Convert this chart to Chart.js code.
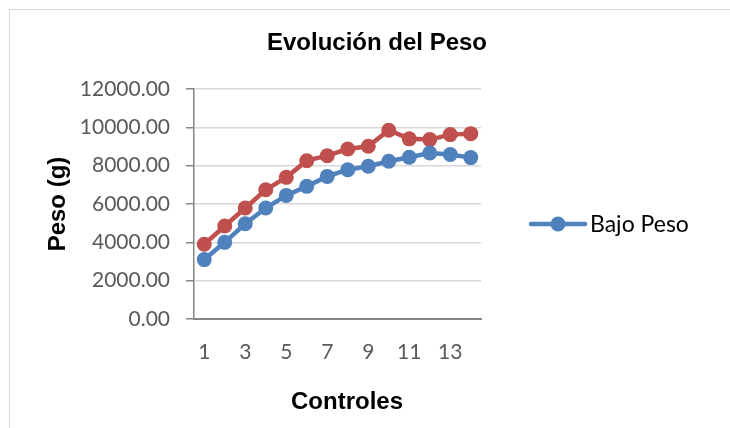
<!DOCTYPE html>
<html>
<head>
<meta charset="utf-8">
<script src="https://cdn.jsdelivr.net/npm/chart.js@4.4.1/dist/chart.umd.min.js"></script>
<style>
  html, body { margin: 0; padding: 0; background: #fff; }
  #wrap { position: relative; width: 730px; height: 428px; overflow: hidden; }
  #frame { position: absolute; left: 9px; top: 9px; width: 740px; height: 440px; border: 1px solid #d9d9d9; box-sizing: border-box; }
  canvas { position: absolute; left: 0; top: 0; }
</style>
</head>
<body>
<div id="wrap">
  <div id="frame"></div>
  <canvas id="chart" width="730" height="428"></canvas>
</div>
<script>
const controles = [1, 2, 3, 4, 5, 6, 7, 8, 9, 10, 11, 12, 13, 14];
const bajoPeso = [3100, 4000, 4970, 5790, 6450, 6920, 7440, 7790, 7970, 8230, 8440, 8660, 8580, 8420];
const otroPeso = [3900, 4850, 5790, 6740, 7390, 8260, 8520, 8870, 9010, 9850, 9400, 9360, 9620, 9670];
const yTicks = [0, 2000, 4000, 6000, 8000, 10000, 12000];

const chartTitle = "Evolución del Peso";
const yTitle = "Peso (g)";
const xTitle = "Controles";
const legendLabel = "Bajo Peso";

const BLUE = "#4F81BD";
const RED = "#C0504D";
const numFont = "Lato, 'Open Sans', sans-serif";
const boldFont = "bold 24px 'Liberation Sans', Arial, sans-serif";

// titles and the one-entry legend, drawn on the canvas
const extras = {
  id: "extras",
  afterDraw(chart) {
    const ctx = chart.ctx;
    const area = chart.chartArea;
    ctx.save();
    ctx.fillStyle = "#000";
    ctx.font = boldFont;
    ctx.textAlign = "center";
    ctx.textBaseline = "middle";
    ctx.fillText(chartTitle, 377, 43);
    ctx.fillText(xTitle, 347, 402);

    ctx.save();
    ctx.translate(58, (area.top + area.bottom) / 2);
    ctx.rotate(-Math.PI / 2);
    ctx.fillText(yTitle, 0, 0);
    ctx.restore();

    // legend
    const ly = 224;
    ctx.strokeStyle = BLUE;
    ctx.lineWidth = 4.5;
    ctx.lineCap = "round";
    ctx.beginPath();
    ctx.moveTo(531, ly);
    ctx.lineTo(585, ly);
    ctx.stroke();
    ctx.fillStyle = BLUE;
    ctx.beginPath();
    ctx.arc(558, ly, 7.5, 0, Math.PI * 2);
    ctx.fill();
    ctx.fillStyle = "#000";
    ctx.font = "23px " + numFont;
    ctx.textAlign = "left";
    ctx.fillText(legendLabel, 590, ly + 1);
    ctx.restore();
  }
};

new Chart(document.getElementById("chart"), {
  type: "line",
  data: {
    labels: controles,
    datasets: [
      {
        label: legendLabel,
        data: bajoPeso,
        borderColor: BLUE,
        backgroundColor: BLUE,
        borderWidth: 4.5,
        pointRadius: 7.5,
        pointBorderWidth: 0,
        pointHoverRadius: 7.5
      },
      {
        label: "Serie 2",
        data: otroPeso,
        borderColor: RED,
        backgroundColor: RED,
        borderWidth: 4.5,
        pointRadius: 7.5,
        pointBorderWidth: 0,
        pointHoverRadius: 7.5
      }
    ]
  },
  options: {
    responsive: false,
    animation: false,
    layout: { padding: { top: 89, left: 10, right: 249, bottom: 0 } },
    plugins: {
      legend: { display: false },
      title: { display: false },
      tooltip: { enabled: false }
    },
    scales: {
      x: {
        offset: true,
        afterFit: (s) => { s.height = 109; },
        grid: { display: false, drawTicks: false, offset: true },
        border: { color: "#868686", width: 2 },
        ticks: {
          autoSkip: false,
          maxRotation: 0,
          padding: 21,
          color: "#595959",
          font: { family: numFont, size: 21 },
          callback: function (v, i) { return i % 2 === 0 ? this.getLabelForValue(v) : ""; }
        }
      },
      y: {
        min: 0,
        max: 12000,
        afterFit: (s) => { s.width = 184; },
        afterBuildTicks: (s) => { s.ticks = yTicks.map((v) => ({ value: v })); },
        grid: { color: "#d9d9d9", lineWidth: 1.5, tickLength: 8, tickColor: "#868686" },
        border: { color: "#868686", width: 1.5 },
        ticks: {
          padding: 16,
          color: "#595959",
          font: { family: numFont, size: 21 },
          callback: (v) => v.toFixed(2)
        }
      }
    }
  },
  plugins: [extras]
});
</script>
</body>
</html>
